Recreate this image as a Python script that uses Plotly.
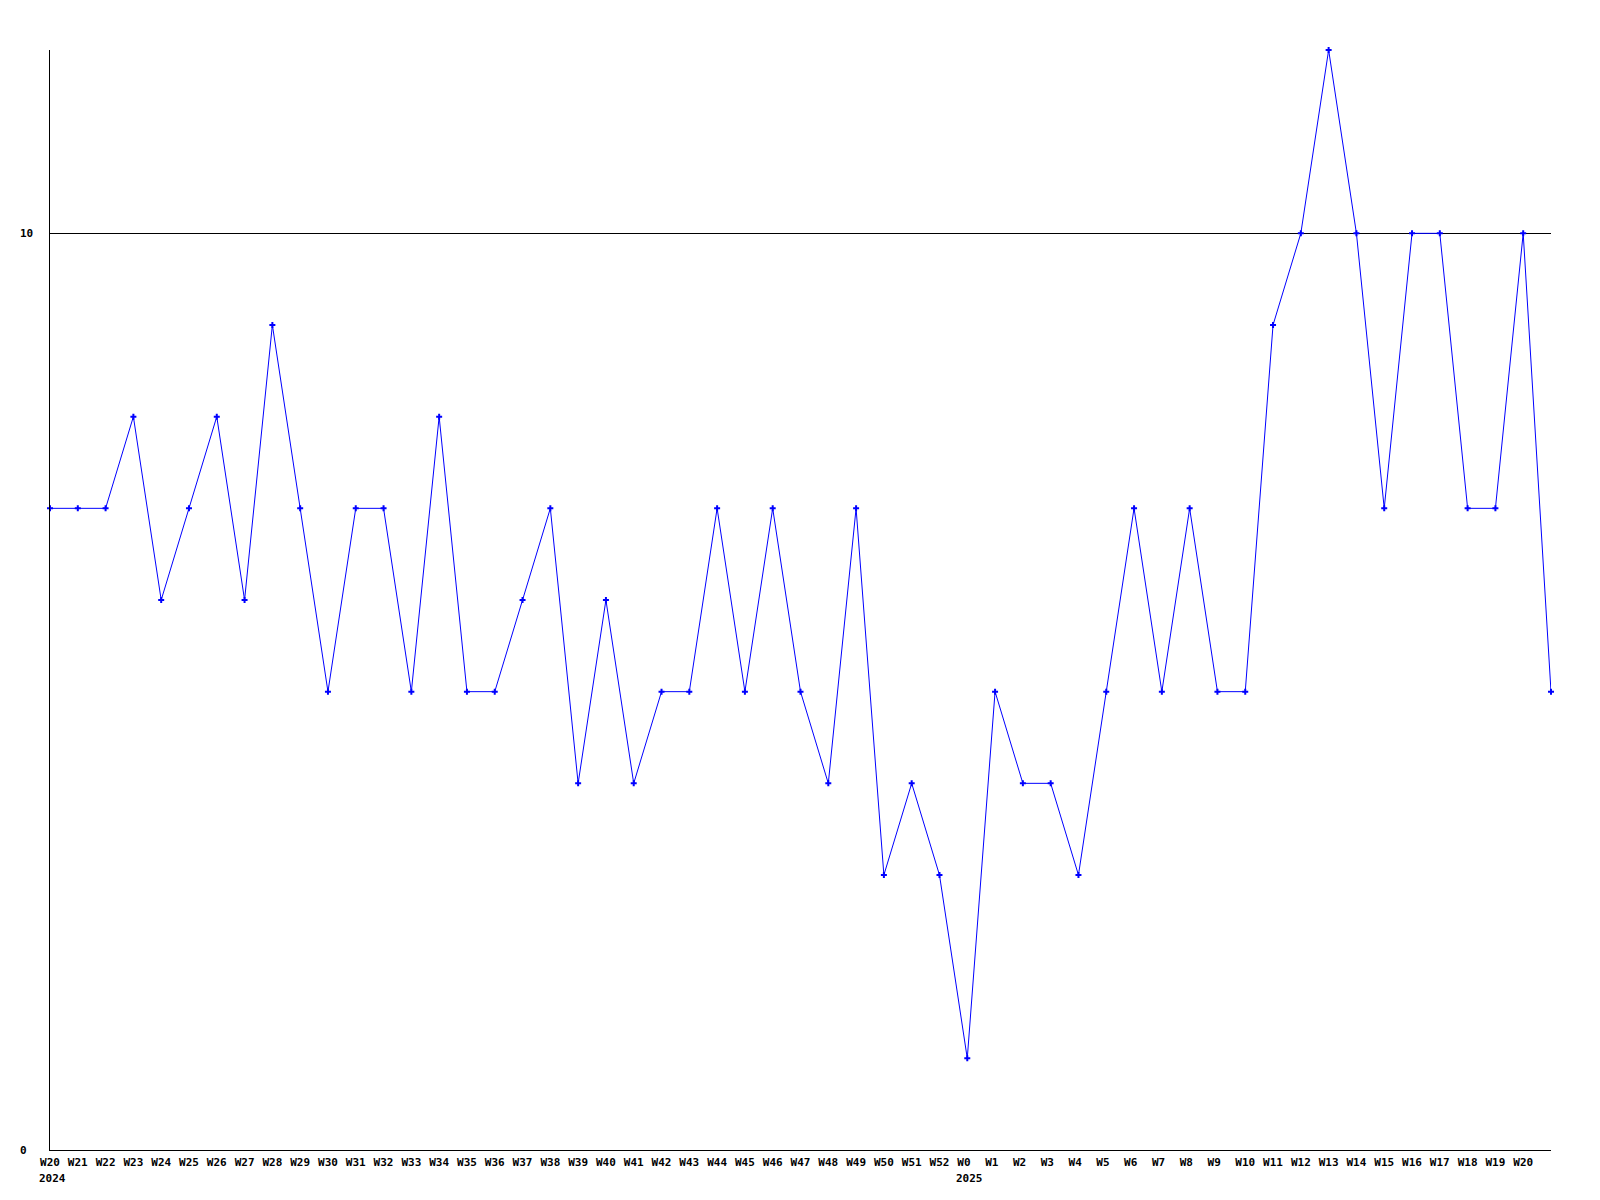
import plotly.graph_objects as go

week_labels = ["W20", "W21", "W22", "W23", "W24", "W25", "W26", "W27", "W28", "W29",
               "W30", "W31", "W32", "W33", "W34", "W35", "W36", "W37", "W38", "W39",
               "W40", "W41", "W42", "W43", "W44", "W45", "W46", "W47", "W48", "W49",
               "W50", "W51", "W52",
               "W0", "W1", "W2", "W3", "W4", "W5", "W6", "W7", "W8", "W9",
               "W10", "W11", "W12", "W13", "W14", "W15", "W16", "W17", "W18", "W19", "W20",
               ""]
values = [7, 7, 7, 8, 6, 7, 8, 6, 9, 7,
          5, 7, 7, 5, 8, 5, 5, 6, 7, 4,
          6, 4, 5, 5, 7, 5, 7, 5, 4, 7,
          3, 4, 3,
          1, 5, 4, 4, 3, 5, 7, 5, 7, 5,
          5, 9, 10, 12, 10, 7, 10, 10, 7, 7, 10,
          5]
year_labels = [(0, "2024"), (33, "2025")]
y_ticks = [0, 10]

FONT = dict(family="DejaVu Sans Mono", size=11, color="black", weight="bold")

idx = list(range(len(values)))
ticktext = [(l + "\u00a0" * (3 - len(l))) if l else "" for l in week_labels]

fig = go.Figure()
fig.add_trace(go.Scatter(
    x=idx, y=values, mode="lines+markers",
    line=dict(color="#0000ff", width=1),
    marker=dict(symbol="cross", size=5, color="#0000ff"),
    cliponaxis=False, showlegend=False, hoverinfo="skip",
))

annotations = []
for i, yr in year_labels:
    annotations.append(dict(x=i, y=0, xref="x", yref="paper", text=yr, showarrow=False,
                            xanchor="left", yanchor="top", xshift=-13, yshift=-20, font=FONT))
for v in y_ticks:
    annotations.append(dict(x=0, y=v, xref="paper", yref="y", text=str(v), showarrow=False,
                            xanchor="left", yanchor="middle", xshift=-32, font=FONT))

fig.update_layout(
    width=1584, height=1184,
    margin=dict(l=42, r=41, t=42, b=42),
    paper_bgcolor="white", plot_bgcolor="white",
    xaxis=dict(range=[0, len(values) - 1], tickvals=idx, ticktext=ticktext,
               showgrid=False, zeroline=False, showline=True, linecolor="black", linewidth=1,
               ticks="", tickfont=FONT, tickangle=0, ticklabelstandoff=2),
    yaxis=dict(range=[0, 12], tickvals=y_ticks, showticklabels=False,
               showgrid=True, gridcolor="black", gridwidth=1, zeroline=False,
               showline=True, linecolor="black", linewidth=1, ticks=""),
    annotations=annotations,
)
fig.write_html("out.html")
